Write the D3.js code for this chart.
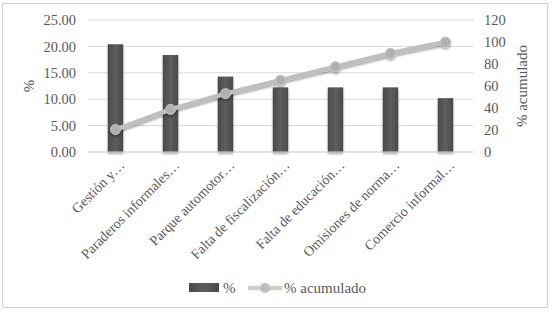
<!DOCTYPE html>
<html>
<head>
<meta charset="utf-8">
<script src="https://cdn.jsdelivr.net/npm/d3@7"></script>
<style>
  body { margin: 0; background: #fff; }
  text { font-family: "Liberation Serif", "Times New Roman", serif; fill: #595959; }
</style>
</head>
<body>
<svg id="chart"></svg>
<script>
const categories = ['Gestión y…', 'Paraderos informales…', 'Parque automotor…', 'Falta de fiscalización…',
    'Falta de educación…', 'Omisiones de norma…', 'Comercio informal…'];
const pct = [20.41, 18.37, 14.29, 12.24, 12.24, 12.24, 10.20];
const pctAcum = [20.41, 38.78, 53.06, 65.31, 77.55, 89.80, 100];
const leftTicks = [0, 5, 10, 15, 20, 25];
const rightTicks = [0, 20, 40, 60, 80, 100, 120];

const width = 553, height = 311;
const margin = { top: 20, right: 80, bottom: 159, left: 88 };
const innerW = width - margin.left - margin.right;
const innerH = height - margin.top - margin.bottom;

const svg = d3.select('#chart').attr('width', width).attr('height', height);

const defs = svg.append('defs');
const grad = defs.append('linearGradient').attr('id', 'barGrad').attr('x1', 0).attr('x2', 1);
grad.append('stop').attr('offset', '0%').attr('stop-color', '#4a4a4a');
grad.append('stop').attr('offset', '50%').attr('stop-color', '#5e5e5e');
grad.append('stop').attr('offset', '100%').attr('stop-color', '#4a4a4a');
const shadow = defs.append('filter').attr('id', 'shadow').attr('x', '-50%').attr('y', '-20%').attr('width', '200%').attr('height', '140%');
shadow.append('feDropShadow').attr('dx', 0).attr('dy', 2).attr('stdDeviation', 1.2)
    .attr('flood-color', '#000').attr('flood-opacity', 0.35);

// outer frame
svg.append('rect').attr('x', 2.5).attr('y', 3.5).attr('width', 545).attr('height', 304)
    .attr('fill', 'none').attr('stroke', '#d0d0d0');

const chart = svg.append('g').attr('transform', `translate(${margin.left}, ${margin.top})`);

const x = d3.scaleBand().domain(categories).range([0, innerW]).paddingInner(0.72).paddingOuter(0.36);
const yL = d3.scaleLinear().domain([0, 25]).range([innerH, 0]);
const yR = d3.scaleLinear().domain([0, 120]).range([innerH, 0]);

// gridlines
chart.append('g').selectAll('line').data(leftTicks).join('line')
    .attr('x1', 0).attr('x2', innerW)
    .attr('y1', d => yL(d)).attr('y2', d => yL(d))
    .attr('stroke', '#d9d9d9').attr('stroke-width', 1);

// left axis
const yAxisL = d3.axisLeft(yL).tickValues(leftTicks).tickFormat(d3.format('.2f')).tickSize(0).tickPadding(12);
chart.append('g').call(yAxisL).call(g => g.select('.domain').remove())
    .selectAll('text').style('font-size', '14.5px').style('font-family', '"Liberation Serif", serif').attr('fill', '#595959');

// right axis
const yAxisR = d3.axisRight(yR).tickValues(rightTicks).tickSize(0).tickPadding(11);
chart.append('g').attr('transform', `translate(${innerW}, 0)`).call(yAxisR).call(g => g.select('.domain').remove())
    .selectAll('text').style('font-size', '14.5px').style('font-family', '"Liberation Serif", serif').attr('fill', '#595959');

// bars
chart.selectAll('.bar').data(pct).join('rect')
    .attr('class', 'bar')
    .attr('x', (d, i) => x(categories[i]))
    .attr('y', d => yL(d))
    .attr('width', x.bandwidth())
    .attr('height', d => innerH - yL(d))
    .attr('fill', 'url(#barGrad)')
    .attr('filter', 'url(#shadow)');

// x axis baseline
chart.append('line').attr('x1', 0).attr('x2', innerW).attr('y1', innerH).attr('y2', innerH)
    .attr('stroke', '#d9d9d9');

// x labels
const xAxis = d3.axisBottom(x).tickSize(0).tickPadding(0);
chart.append('g').attr('transform', `translate(0, ${innerH})`).call(xAxis)
    .call(g => g.select('.domain').remove())
    .selectAll('text')
    .style('font-size', '14px').style('font-family', '"Liberation Serif", serif').attr('fill', '#595959')
    .attr('text-anchor', 'end')
    .attr('dy', 0)
    .attr('transform', 'translate(10, 14) rotate(-45)');

// cumulative line
const cx = (d, i) => x(categories[i]) + x.bandwidth() / 2;
const line = d3.line().x(cx).y(d => yR(d));
const lineG = chart.append('g').attr('filter', 'url(#shadow)');
lineG.append('path').datum(pctAcum).attr('d', line)
    .attr('fill', 'none').attr('stroke', '#bfbfbf').attr('stroke-width', 4.5);
lineG.selectAll('circle').data(pctAcum).join('circle')
    .attr('cx', cx).attr('cy', d => yR(d)).attr('r', 5)
    .attr('fill', '#b0b0b0').attr('stroke', '#c4c4c4').attr('stroke-width', 1);

// axis titles
svg.append('text').attr('transform', `translate(34, ${margin.top + innerH / 2}) rotate(-90)`)
    .attr('text-anchor', 'middle').style('font-size', '15px').text('%');
svg.append('text').attr('transform', `translate(527, ${margin.top + innerH / 2}) rotate(-90)`)
    .attr('text-anchor', 'middle').style('font-size', '15px').text('% acumulado');

// legend
const lg = svg.append('g').attr('transform', 'translate(189, 288)');
lg.append('rect').attr('x', 0).attr('y', -5).attr('width', 30).attr('height', 9).attr('fill', 'url(#barGrad)');
lg.append('text').attr('x', 34).attr('y', 5).style('font-size', '15px').text('%');
lg.append('line').attr('x1', 59).attr('x2', 93).attr('y1', 0).attr('y2', 0)
    .attr('stroke', '#cfcfcf').attr('stroke-width', 4.5);
lg.append('circle').attr('cx', 76).attr('cy', 0).attr('r', 5).attr('fill', '#bdbdbd');
lg.append('text').attr('x', 95).attr('y', 5).style('font-size', '15px').text('% acumulado');
</script>
</body>
</html>
